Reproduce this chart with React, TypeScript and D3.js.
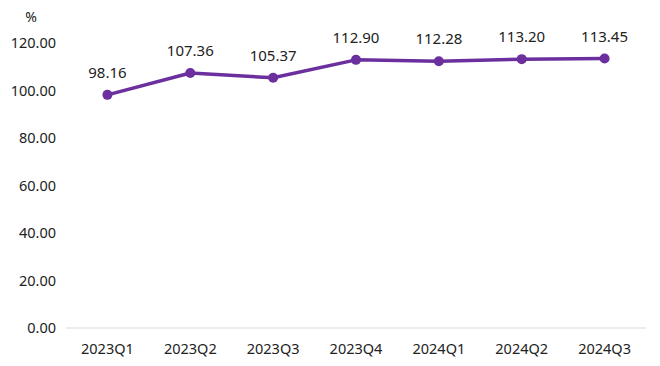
import React from 'react';
import * as d3 from 'd3';

const quarters = ['2023Q1', '2023Q2', '2023Q3', '2023Q4', '2024Q1', '2024Q2', '2024Q3'];
const ratios = [98.16, 107.36, 105.37, 112.9, 112.28, 113.2, 113.45];
const yTicks = [0, 20, 40, 60, 80, 100, 120];

const width = 660;
const height = 366;
const margin = { left: 66, right: 14, top: 43, bottom: 38 };
const font = '"Noto Sans", "Open Sans", sans-serif';
const purple = '#6b2f9e';

export default function App() {
    const x = d3.scaleBand().domain(quarters).range([margin.left, width - margin.right]);
    const y = d3.scaleLinear().domain([0, 120]).range([height - margin.bottom, margin.top]);
    const cx = (q) => x(q) + x.bandwidth() / 2;

    const line = d3.line()
        .x((d, i) => cx(quarters[i]))
        .y((d) => y(d));

    return (
        <svg width={width} height={height} style={{ position: 'absolute', left: 0, top: 0, background: '#fff' }}>
            {/* unit */}
            <text x={31} y={22} fontFamily={font} fontSize={14} textAnchor="middle" fill="#222">%</text>

            {/* y axis labels */}
            {yTicks.map((t) => (
                <text key={t} x={56} y={y(t)} dy="0.36em" textAnchor="end"
                    fontFamily={font} fontSize={14.5} fill="#222">{t.toFixed(2)}</text>
            ))}

            {/* baseline */}
            <line x1={margin.left} x2={width - margin.right} y1={y(0)} y2={y(0)} stroke="#d9d9d9" strokeWidth={1.2} />

            {/* x labels */}
            {quarters.map((q) => (
                <text key={q} x={cx(q)} y={y(0) + 21} dy="0.36em" textAnchor="middle"
                    fontFamily={font} fontSize={14.5} fill="#222">{q}</text>
            ))}

            <path d={line(ratios)} fill="none" stroke={purple} strokeWidth={3.5} strokeLinejoin="round" />

            {ratios.map((v, i) => (
                <g key={quarters[i]}>
                    <circle cx={cx(quarters[i])} cy={y(v)} r={5} fill={purple} />
                    <text x={cx(quarters[i])} y={y(v) - 17} textAnchor="middle"
                        fontFamily={font} fontSize={15} fill="#222">{v.toFixed(2)}</text>
                </g>
            ))}
        </svg>
    );
}
